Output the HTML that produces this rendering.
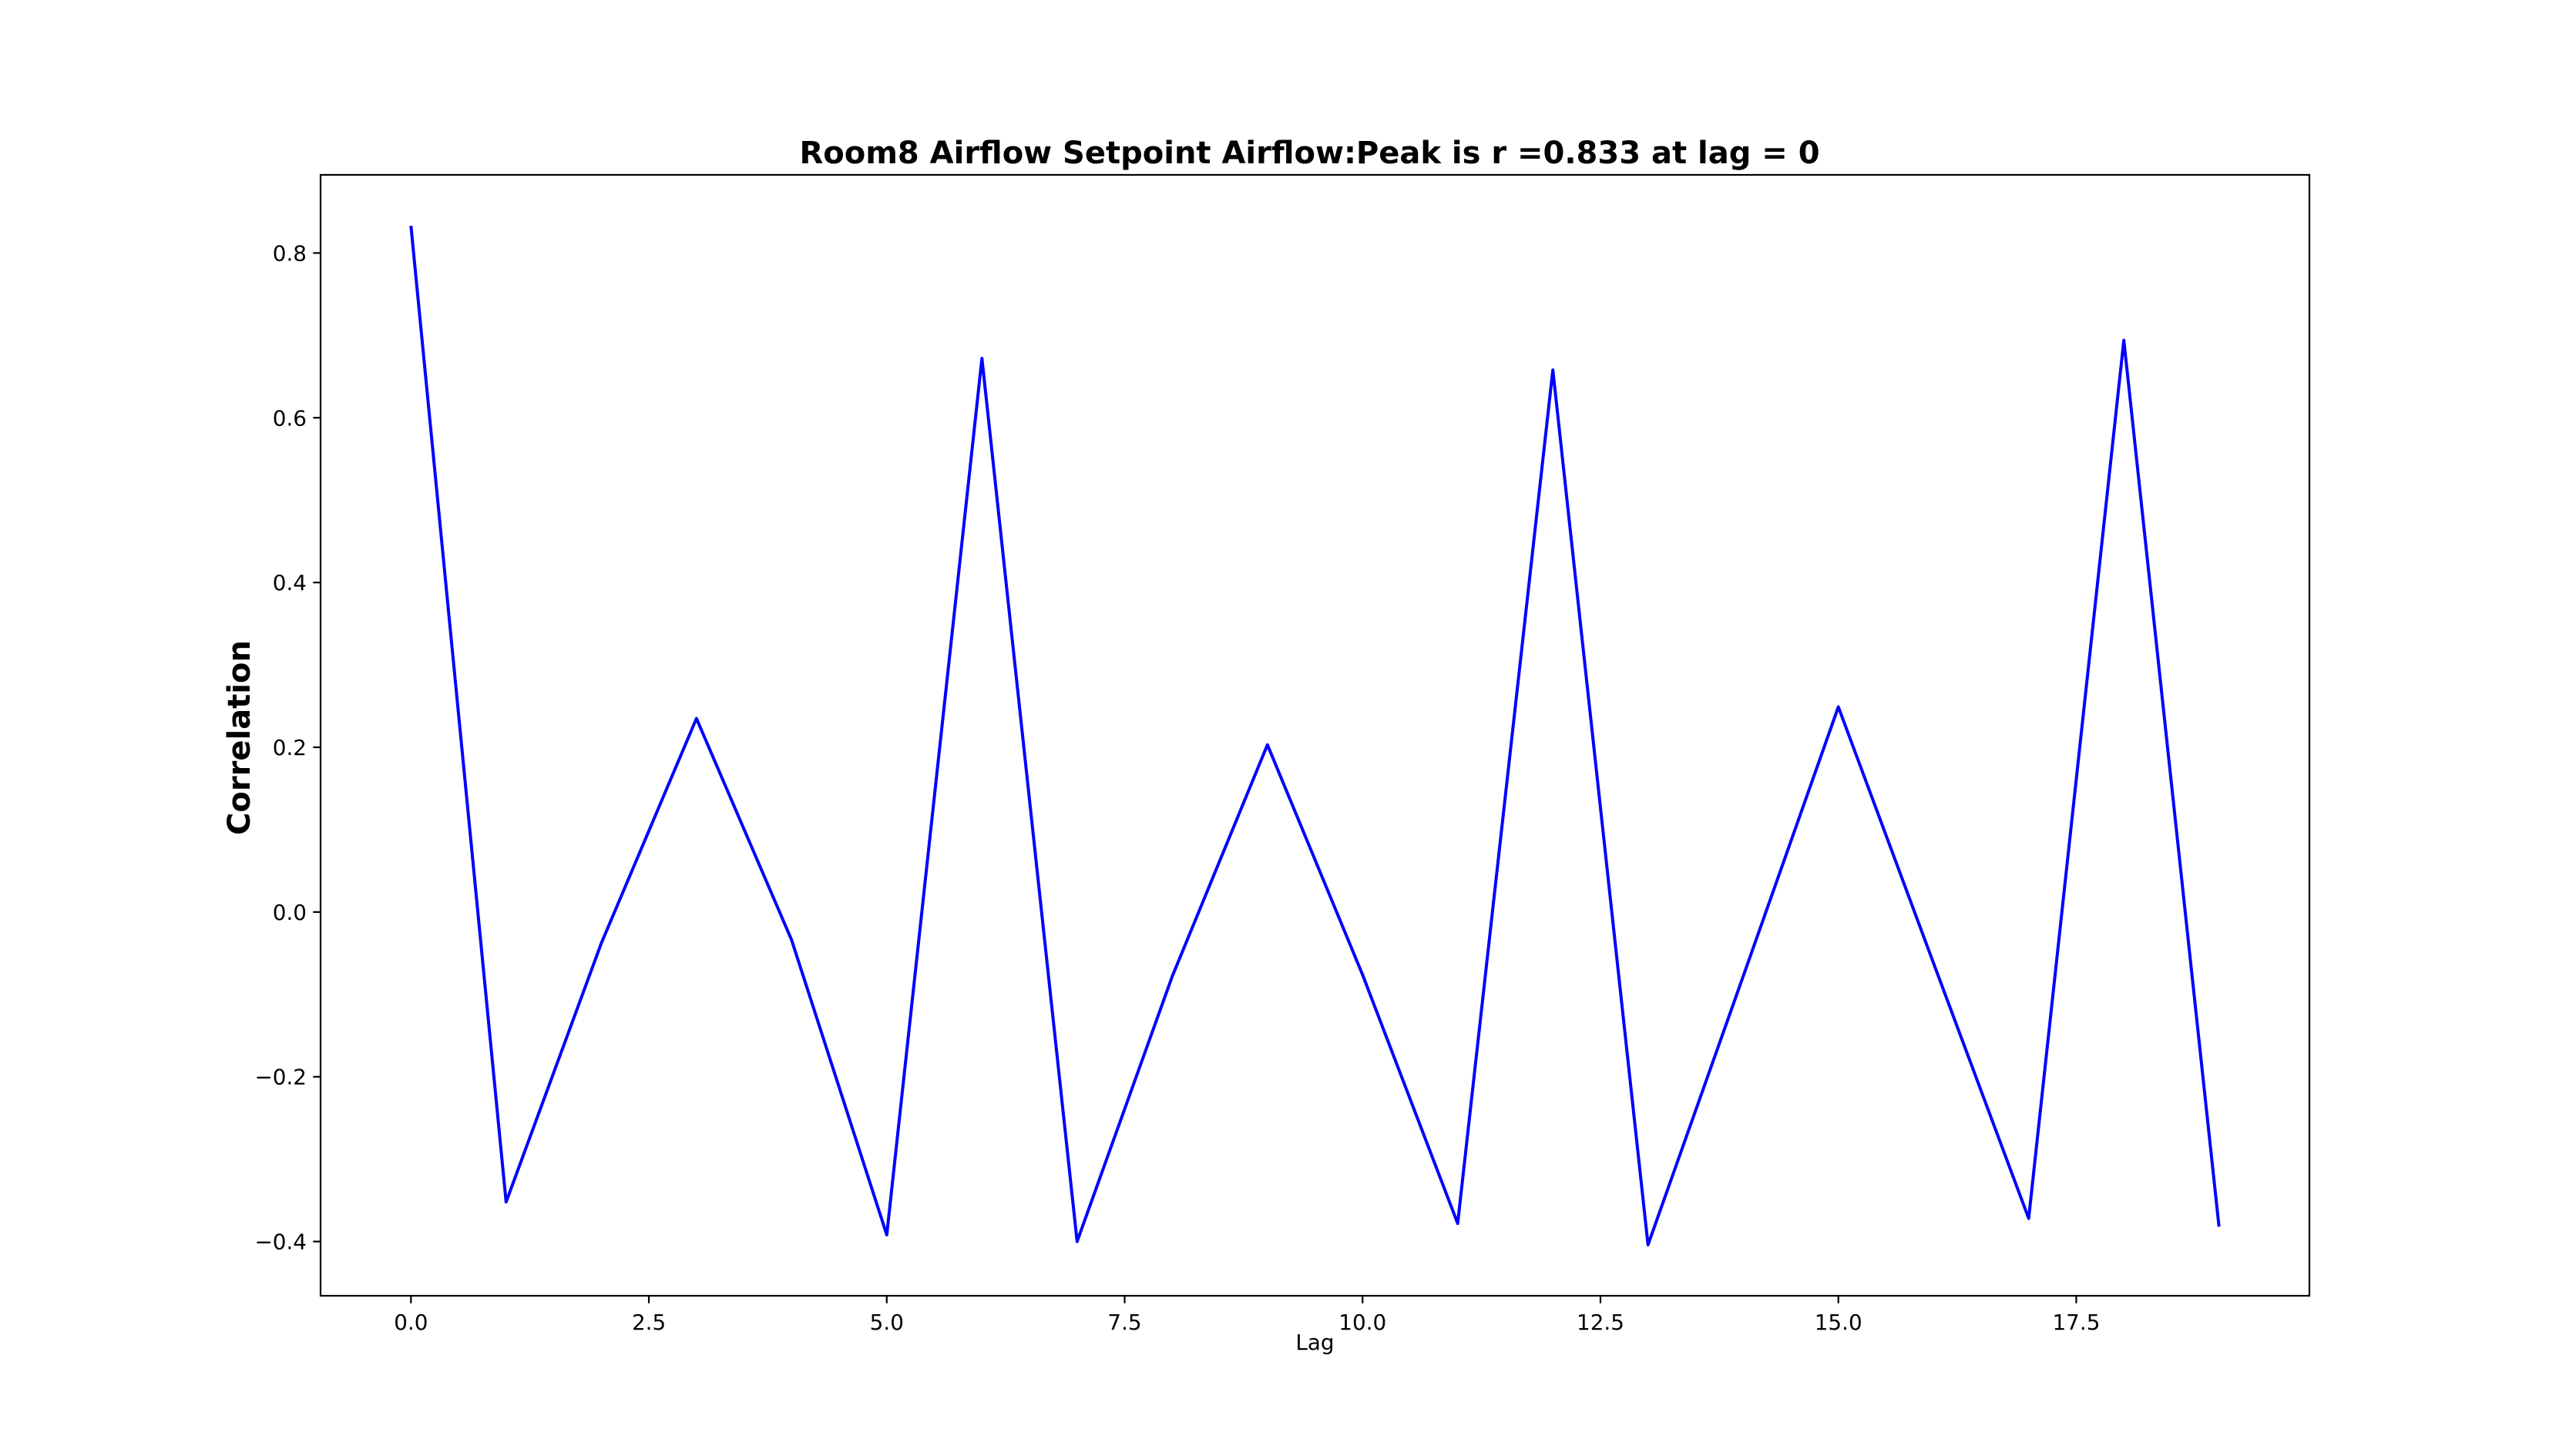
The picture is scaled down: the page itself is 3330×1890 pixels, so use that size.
<!DOCTYPE html>
<html><head><meta charset="utf-8"><style>
html,body{margin:0;padding:0;background:#fff;}
svg{display:block;font-family:"DejaVu Sans","Liberation Sans",sans-serif;}
</style></head><body>
<svg id="chart" width="3330" height="1890" viewBox="0 0 3330 1890">
<rect width="3330" height="1890" fill="#fff"/>
<g id="plot"></g>
</svg>
<script>
const lags = [0,1,2,3,4,5,6,7,8,9,10,11,12,13,14,15,16,17,18,19];
const correlations = [0.833,-0.352,-0.038,0.235,-0.034,-0.392,0.672,-0.400,-0.078,0.203,-0.076,-0.378,0.658,-0.404,-0.078,0.249,-0.062,-0.372,0.694,-0.382];
const xTicks = [0,2.5,5,7.5,10,12.5,15,17.5];
const xTickLabels = ["0.0","2.5","5.0","7.5","10.0","12.5","15.0","17.5"];
const yTicks = [-0.4,-0.2,0,0.2,0.4,0.6,0.8];
const yTickLabels = ["\u22120.4","\u22120.2","0.0","0.2","0.4","0.6","0.8"];
const titleText = "Room8 Airflow Setpoint Airflow:Peak is r =0.833 at lag = 0";

const L=416,R=2997,T=227,B=1682;
const xmin=Math.min(...lags),xmax=Math.max(...lags);
const xpad=(xmax-xmin)*0.05;
const ymin=Math.min(...correlations),ymax=Math.max(...correlations);
const ypad=(ymax-ymin)*0.05;
const X=v=>L+(v-(xmin-xpad))/((xmax+xpad)-(xmin-xpad))*(R-L);
const Y=v=>B-(v-(ymin-ypad))/((ymax+ypad)-(ymin-ypad))*(B-T);
const NS="http://www.w3.org/2000/svg";
const g=document.getElementById('plot');
function mk(tag,attrs,parent){const e=document.createElementNS(NS,tag);for(const k in attrs)e.setAttribute(k,attrs[k]);(parent||g).appendChild(e);return e;}

const line=mk('polyline',{points:lags.map((l,i)=>X(l).toFixed(1)+','+Y(correlations[i]).toFixed(1)).join(' '),fill:'none',stroke:'#0000ff','stroke-width':4,'stroke-linejoin':'round'});



const frame=mk('rect',{x:L,y:T,width:R-L,height:B-T,fill:'none',stroke:'#000','stroke-width':2.2});



xTicks.forEach((t,i)=>{
  const tk=mk('line',{x1:X(t),x2:X(t),y1:B,y2:B+9.7,stroke:'#000','stroke-width':2.2});
  
  
  const tx=mk('text',{x:X(t),y:B+44,'font-size':27.8,'text-anchor':'middle',fill:'#000'});
  tx.textContent=xTickLabels[i];
  
  
});
yTicks.forEach((t,i)=>{
  const tk=mk('line',{x1:L-9.7,x2:L,y1:Y(t),y2:Y(t),stroke:'#000','stroke-width':2.2});
  
  
  const tx=mk('text',{x:L-18,y:Y(t)+10,'font-size':27.8,'text-anchor':'end',fill:'#000'});
  tx.textContent=yTickLabels[i];
  
  
});

const title=mk('text',{x:(L+R)/2-7,y:212,'font-size':40,'font-weight':'bold','text-anchor':'middle',fill:'#000'});
title.textContent=titleText;



const xl=mk('text',{x:(L+R)/2,y:1752,'font-size':27.8,'text-anchor':'middle',fill:'#000'});
xl.textContent='Lag';



const yl=mk('text',{x:0,y:0,'font-size':40,'font-weight':'bold','text-anchor':'middle',fill:'#000',transform:`translate(324,${(T+B)/2+3}) rotate(-90)`});
yl.textContent='Correlation';


</script>
</body></html>
